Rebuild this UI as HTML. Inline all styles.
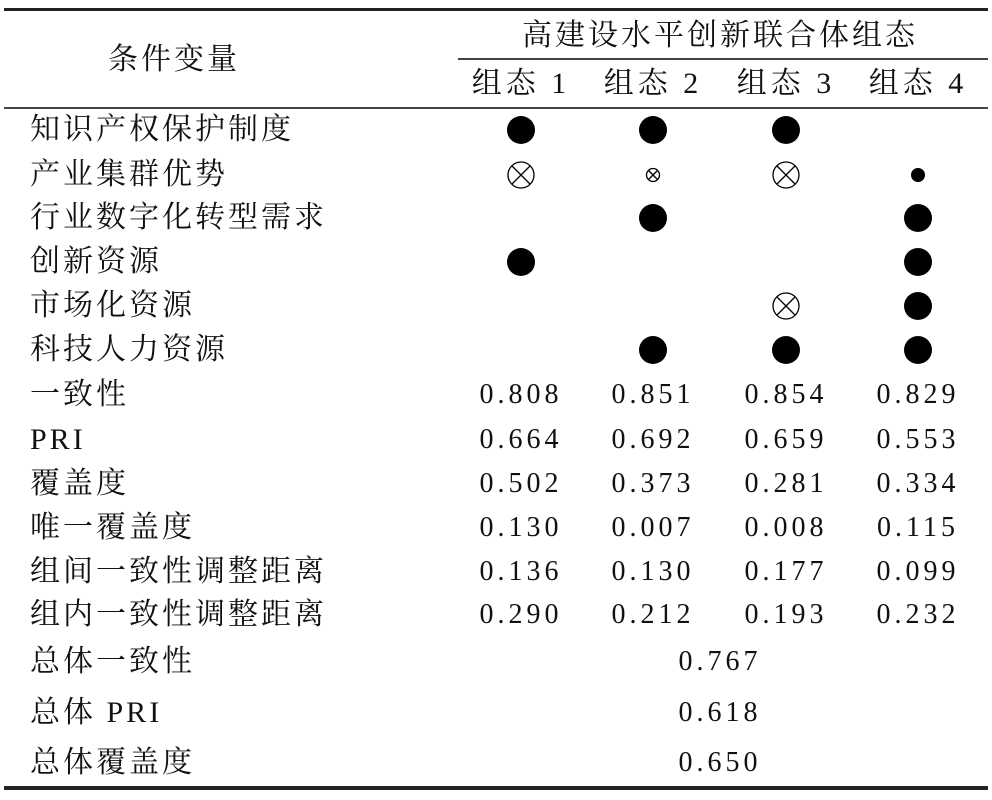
<!DOCTYPE html>
<html><head><meta charset="utf-8"><style>
body{margin:0;width:992px;height:800px;background:#fff;position:relative;overflow:hidden;font-family:"Liberation Serif","Noto Serif CJK SC","Noto Sans CJK SC",serif;color:#111}
.l{position:absolute;left:30px;font-size:30px;letter-spacing:3px;line-height:34px;transform:translateY(-17px);white-space:nowrap}
.c{position:absolute;width:130px;text-align:center;font-size:28px;letter-spacing:4px;line-height:34px;transform:translate(-65px,-17px);white-space:nowrap}
.h{position:absolute;background:#222}
svg{position:absolute;left:0;top:0}
</style></head><body>
<div class="h" style="left:4px;top:8px;width:984px;height:3px"></div>
<div class="h" style="left:458px;top:58px;width:530px;height:2px;background:#444"></div>
<div class="h" style="left:4px;top:107px;width:984px;height:2px;background:#444"></div>
<div class="h" style="left:4px;top:786px;width:984px;height:4px"></div>

<div class="l" style="left:108px;top:60px">条件变量</div>
<div class="l" style="left:522px;top:36px">高建设水平创新联合体组态</div>
<div class="c" style="left:521px;top:84px;font-size:30px">组态 1</div>
<div class="c" style="left:653px;top:84px;font-size:30px">组态 2</div>
<div class="c" style="left:786px;top:84px;font-size:30px">组态 3</div>
<div class="c" style="left:918px;top:84px;font-size:30px">组态 4</div>

<div class="l" style="top:130px">知识产权保护制度</div>
<div class="l" style="top:175px">产业集群优势</div>
<div class="l" style="top:218px">行业数字化转型需求</div>
<div class="l" style="top:262px">创新资源</div>
<div class="l" style="top:306px">市场化资源</div>
<div class="l" style="top:350px">科技人力资源</div>
<div class="l" style="top:395px">一致性</div>
<div class="l" style="top:440px">PRI</div>
<div class="l" style="top:484px">覆盖度</div>
<div class="l" style="top:528px">唯一覆盖度</div>
<div class="l" style="top:572px">组间一致性调整距离</div>
<div class="l" style="top:615px">组内一致性调整距离</div>
<div class="l" style="top:662px">总体一致性</div>
<div class="l" style="top:713px">总体 PRI</div>
<div class="l" style="top:763px">总体覆盖度</div>

<svg width="992" height="800">
<g fill="#000">
<circle cx="521" cy="130" r="14"/><circle cx="653" cy="130" r="14"/><circle cx="786" cy="130" r="14"/>
<circle cx="918" cy="175" r="7"/>
<circle cx="653" cy="218" r="14"/><circle cx="918" cy="218" r="14"/>
<circle cx="521" cy="262" r="14"/><circle cx="918" cy="262" r="14"/>
<circle cx="918" cy="306" r="14"/>
<circle cx="653" cy="350" r="14"/><circle cx="786" cy="350" r="14"/><circle cx="918" cy="350" r="14"/>
</g>
<g fill="none" stroke="#000" stroke-width="1.3">
<circle cx="521" cy="175" r="13"/><path d="M512 166L530 184M530 166L512 184"/>
<circle cx="786" cy="175" r="13"/><path d="M777 166L795 184M795 166L777 184"/>
<circle cx="786" cy="306" r="13"/><path d="M777 297L795 315M795 297L777 315"/>
<circle cx="653" cy="175" r="6.5"/><path d="M648.5 170.5L657.5 179.5M657.5 170.5L648.5 179.5"/>
</g>
</svg>

<div class="c" style="left:521px;top:395px">0.808</div><div class="c" style="left:653px;top:395px">0.851</div><div class="c" style="left:786px;top:395px">0.854</div><div class="c" style="left:918px;top:395px">0.829</div>
<div class="c" style="left:521px;top:440px">0.664</div><div class="c" style="left:653px;top:440px">0.692</div><div class="c" style="left:786px;top:440px">0.659</div><div class="c" style="left:918px;top:440px">0.553</div>
<div class="c" style="left:521px;top:484px">0.502</div><div class="c" style="left:653px;top:484px">0.373</div><div class="c" style="left:786px;top:484px">0.281</div><div class="c" style="left:918px;top:484px">0.334</div>
<div class="c" style="left:521px;top:528px">0.130</div><div class="c" style="left:653px;top:528px">0.007</div><div class="c" style="left:786px;top:528px">0.008</div><div class="c" style="left:918px;top:528px">0.115</div>
<div class="c" style="left:521px;top:572px">0.136</div><div class="c" style="left:653px;top:572px">0.130</div><div class="c" style="left:786px;top:572px">0.177</div><div class="c" style="left:918px;top:572px">0.099</div>
<div class="c" style="left:521px;top:615px">0.290</div><div class="c" style="left:653px;top:615px">0.212</div><div class="c" style="left:786px;top:615px">0.193</div><div class="c" style="left:918px;top:615px">0.232</div>
<div class="c" style="left:720px;top:662px">0.767</div>
<div class="c" style="left:720px;top:713px">0.618</div>
<div class="c" style="left:720px;top:763px">0.650</div>
</body></html>
